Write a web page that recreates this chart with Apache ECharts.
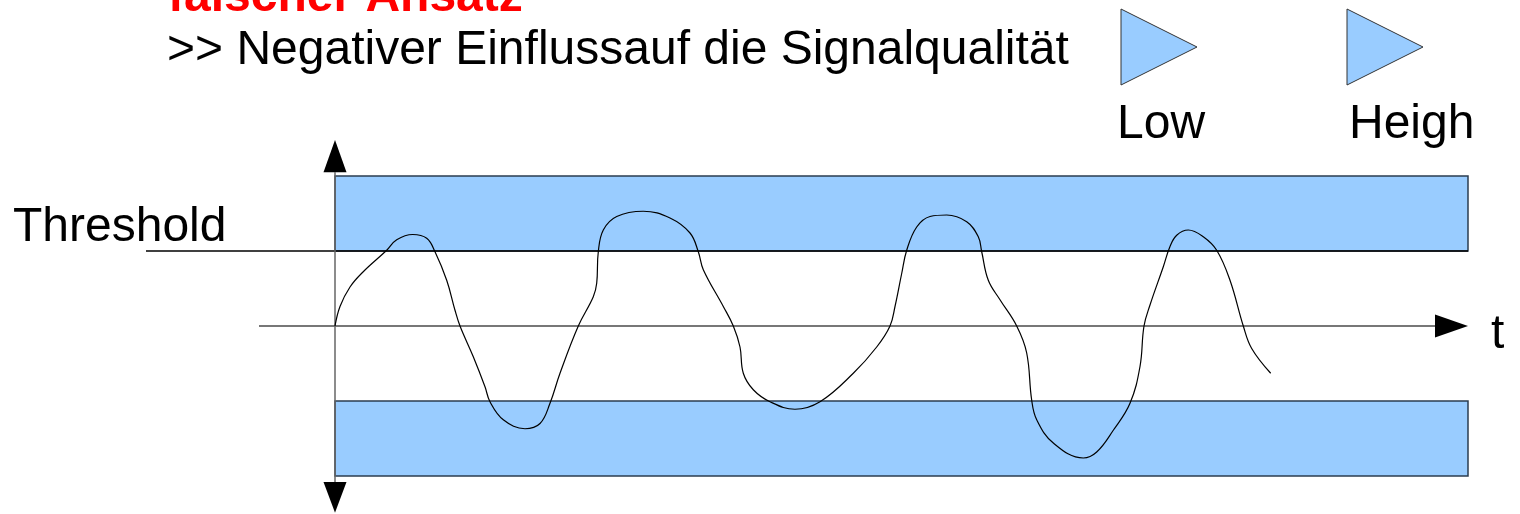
<!DOCTYPE html>
<html>
<head>
<meta charset="utf-8">
<script src="https://cdn.jsdelivr.net/npm/echarts@6/dist/echarts.min.js"></script>
<style>
  html, body { margin: 0; padding: 0; background: #fff; }
  #chart { width: 1520px; height: 514px; }
</style>
</head>
<body>
<div id="chart"></div>
<script>
// ---------- data ----------
const titleText = 'falscher Ansatz';
const subtitleText = '>> Negativer Einflussauf die Signalqualität';
const legendLabels = ['Low', 'Heigh'];
const thresholdLabel = 'Threshold';
const timeLabel = 't';

// time axis (arbitrary units) and signal value (threshold = 1)
const tValues = [0, 0.5, 1.5, 2.8, 5.17, 6.17, 7.77, 9.17, 10.0, 11.17, 12.0, 12.5, 13.83, 15.0, 15.5, 16.83, 19.0, 20.5, 21.5, 22.5,
  24.33, 25.83, 26.17, 26.33, 26.83, 28.17, 30.83, 33.5, 35.5, 36.33, 36.83, 38.83, 39.83, 40.5, 40.83, 41.83, 43.5, 46.0, 48.5,
  51.83, 54.17, 55.5, 56.0, 56.67, 57.17, 58.17, 59.5, 61.17, 63.17, 64.33, 64.67, 65.33, 66.5, 68.17, 69.17, 69.67, 70.17, 71.83,
  74.83, 76.17, 77.83, 79.5, 80.5, 80.9, 81.5, 82.83, 83.5, 84.17, 85.33, 86.83, 88.17, 89.5, 90.83, 91.67, 93.57];
const signalValues = [0, 0.26, 0.52, 0.72, 1.01, 1.15, 1.22, 1.17, 0.99, 0.61, 0.21, 0, -0.41, -0.81, -1.01, -1.25, -1.37, -1.30, -1.03, -0.63,
  0, 0.39, 0.57, 0.99, 1.28, 1.46, 1.53, 1.44, 1.24, 0.99, 0.75, 0.26, 0, -0.28, -0.63, -0.85, -1.01, -1.11, -1.01,
  -0.63, -0.28, 0, 0.26, 0.70, 1.01, 1.32, 1.46, 1.48, 1.39, 1.19, 0.99, 0.61, 0.35, 0, -0.36, -0.99, -1.25, -1.56,
  -1.76, -1.68, -1.39, -1.03, -0.54, 0, 0.28, 0.79, 1.06, 1.21, 1.28, 1.19, 1.01, 0.61, 0, -0.30, -0.63];

const bandLow = [1, 2];       // upper band (from threshold up)
const bandHigh = [-1, -2];    // lower band
const bandEnd = 113.3;
const thresholdValue = 1;
const thresholdStart = -18.9;
const timeAxisStart = -7.6;
const timeArrowBase = 110;
const vAxisTop = 2.05, vAxisBottom = -2.08;
const vArrowTop = 2.48, vArrowBottom = -2.49;

// ---------- chart ----------
const chart = echarts.init(document.getElementById('chart'), null, { renderer: 'canvas' });
const FONT = '"Liberation Sans", Arial, sans-serif';
const FS = 48;
const midOff = 14.9;

const signalData = tValues.map((t, i) => [t, signalValues[i]]);
const arrows = [
  [0, vArrowTop, 0, vAxisTop],
  [0, vArrowBottom, 0, vAxisBottom],
  [bandEnd, 0, timeArrowBase, 0]
];

function txt(text, x, baseline, opts) {
  return {
    type: 'text', left: x, top: baseline - midOff - FS / 2,
    style: { text: text, font: (opts && opts.bold ? 'bold ' : '') + FS + 'px ' + FONT,
      fill: (opts && opts.color) || '#000', textVerticalAlign: 'top' }
  };
}

const option = {
  animation: false,
  backgroundColor: '#fff',
  grid: { left: 0, right: 0, top: 138.5, bottom: 0.5 },
  xAxis: { type: 'value', min: -33.5, max: 118.5, show: false },
  yAxis: { type: 'value', min: -2.5, max: 2.5, show: false },
  series: [
    {
      type: 'line', data: [], z: 1,
      markArea: {
        silent: true,
        itemStyle: { color: '#99ccff', borderColor: '#2b3d50', borderWidth: 1.5 },
        data: [
          [{ xAxis: 0, yAxis: bandLow[0] }, { xAxis: bandEnd, yAxis: bandLow[1] }],
          [{ xAxis: 0, yAxis: bandHigh[0] }, { xAxis: bandEnd, yAxis: bandHigh[1] }]
        ]
      }
    },
    {
      type: 'line', z: 3, symbol: 'none', silent: true,
      data: [[thresholdStart, thresholdValue], [bandEnd, thresholdValue]],
      lineStyle: { color: '#000', width: 1.3 }
    },
    {
      type: 'line', z: 3, symbol: 'none', silent: true,
      data: [[timeAxisStart, 0], [timeArrowBase, 0]],
      lineStyle: { color: '#777', width: 2 }
    },
    {
      type: 'line', z: 3, symbol: 'none', silent: true,
      data: [[0, vAxisTop], [0, vAxisBottom]],
      lineStyle: { color: '#666', width: 1.5 }
    },
    {
      type: 'custom', z: 4, silent: true,
      data: arrows,
      renderItem: function (params, api) {
        const tip = api.coord([api.value(0), api.value(1)]);
        const base = api.coord([api.value(2), api.value(3)]);
        const dx = tip[0] - base[0], dy = tip[1] - base[1];
        const len = Math.sqrt(dx * dx + dy * dy);
        const nx = -dy / len * 11.5, ny = dx / len * 11.5;
        return {
          type: 'polygon',
          shape: { points: [tip, [base[0] + nx, base[1] + ny], [base[0] - nx, base[1] - ny]] },
          style: { fill: '#000' }
        };
      }
    },
    {
      type: 'line', z: 5, symbol: 'none', smooth: 0.4, silent: true,
      data: signalData,
      lineStyle: { color: '#000', width: 1.2 }
    }
  ],
  graphic: [
    txt(titleText, 168, 13, { bold: true, color: '#ff0000' }),
    txt(subtitleText, 167, 66),
    txt(legendLabels[0], 1117, 140),
    txt(legendLabels[1], 1349, 140),
    txt(thresholdLabel, 13, 243),
    txt(timeLabel, 1491, 350),
    { type: 'polygon', shape: { points: [[1121, 9], [1121, 85], [1197, 47]] },
      style: { fill: '#99ccff', stroke: '#333', lineWidth: 1 } },
    { type: 'polygon', shape: { points: [[1347, 9], [1347, 85], [1423, 47]] },
      style: { fill: '#99ccff', stroke: '#333', lineWidth: 1 } }
  ]
};
chart.setOption(option);
</script>
</body>
</html>
